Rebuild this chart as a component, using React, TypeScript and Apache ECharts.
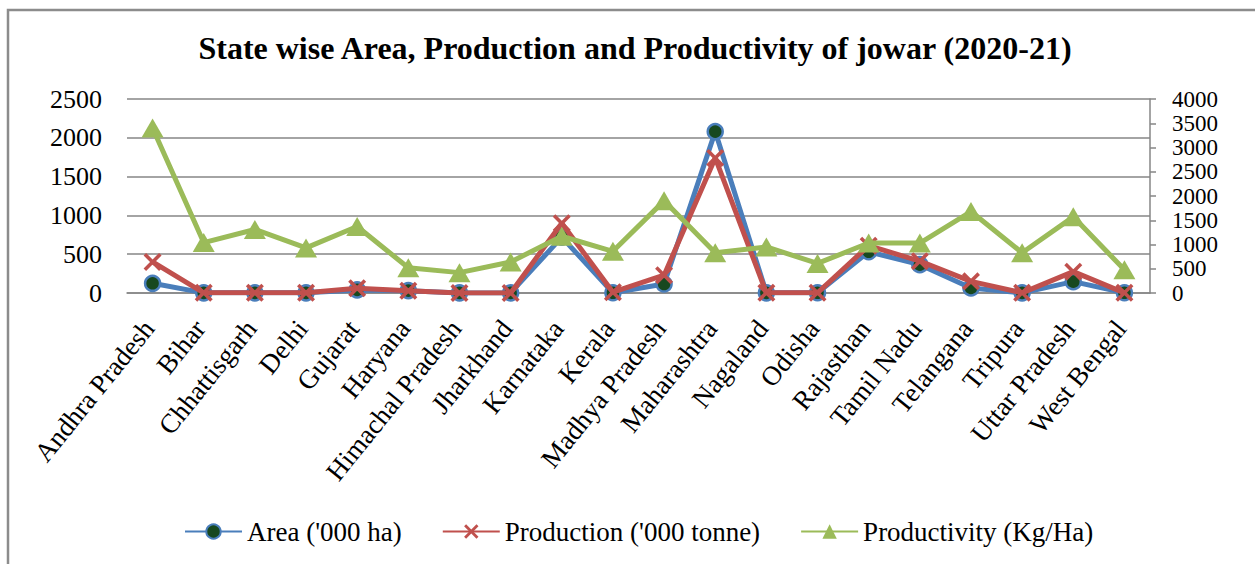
import React, { useEffect, useRef } from "react";
import * as echarts from "echarts";

const states = [
  "Andhra Pradesh", "Bihar", "Chhattisgarh", "Delhi", "Gujarat", "Haryana",
  "Himachal Pradesh", "Jharkhand", "Karnataka", "Kerala", "Madhya Pradesh",
  "Maharashtra", "Nagaland", "Odisha", "Rajasthan", "Tamil Nadu", "Telangana",
  "Tripura", "Uttar Pradesh", "West Bengal",
];
const area = [125, 2, 2, 2, 40, 30, 1, 1, 720, 3, 116, 2080, 2, 3, 532, 365, 65, 2, 146, 3];
const production = [400, 2, 2, 2, 62, 30, 1, 1, 900, 10, 230, 1740, 2, 2, 610, 410, 150, 2, 275, 2];
const productivity = [3400, 1040, 1310, 930, 1370, 520, 420, 640, 1170, 860, 1900, 830, 950, 610, 1030, 1030, 1680, 830, 1570, 480];

const leftTicks = { min: 0, max: 2500, interval: 500 };
const rightTicks = { min: 0, max: 4000, interval: 500 };

const FONT = "'Liberation Serif', 'Times New Roman', serif";
const BLUE = "#4a7ebb";
const RED = "#c0504d";
const GREEN = "#9bbb59";
const DARK = "#17481f";
const GRID = "#868686";

const X_PATH =
  "path://M0,1.4 L1.4,0 L5,3.6 L8.6,0 L10,1.4 L6.4,5 L10,8.6 L8.6,10 L5,6.4 L1.4,10 L0,8.6 L3.6,5 Z";

const plain = (v: number) => String(v);

export default function App() {
  const ref = useRef<HTMLDivElement>(null);
  useEffect(() => {
    if (!ref.current) return;
    const chart = echarts.init(ref.current, null, { renderer: "svg" });
    chart.setOption({
      animation: false,
      backgroundColor: "#ffffff",
      textStyle: { fontFamily: FONT },
      title: {
        text: "State wise Area, Production and Productivity of jowar (2020-21)",
        left: 630,
        textAlign: "center",
        top: 27,
        textStyle: { fontFamily: FONT, fontWeight: "bold", fontSize: 32, color: "#000" },
      },
      graphic: [
        {
          type: "rect",
          shape: { x: 8, y: 10, width: 1400, height: 700 },
          style: { fill: "none", stroke: "#8c8c8c", lineWidth: 2.5 },
          silent: true,
        },
      ],
      legend: {
        top: 513,
        left: 179,
        itemWidth: 57,
        itemHeight: 18,
        itemGap: 40,
        textStyle: { fontFamily: FONT, fontSize: 27, color: "#000" },
        data: ["Area ('000 ha)", "Production ('000 tonne)", "Productivity (Kg/Ha)"],
      },
      grid: { left: 127, right: 105, top: 99, bottom: 271, containLabel: false },
      xAxis: {
        type: "category",
        data: states,
        boundaryGap: true,
        axisLine: { show: true, lineStyle: { color: GRID, width: 1.5 } },
        axisTick: { show: false },
        axisLabel: {
          interval: 0,
          rotate: 51,
          margin: 26,
          padding: [0, 6, 0, 0],
          fontFamily: FONT,
          fontSize: 27,
          color: "#000",
        },
      },
      yAxis: [
        {
          type: "value",
          ...leftTicks,
          position: "left",
          axisLine: { show: false },
          axisTick: { show: false },
          splitLine: { show: true, lineStyle: { color: GRID, width: 1.5 } },
          axisLabel: { margin: 25, fontFamily: FONT, fontSize: 26, color: "#000", formatter: plain },
        },
        {
          type: "value",
          ...rightTicks,
          position: "right",
          axisLine: { show: true, lineStyle: { color: GRID, width: 1.5 } },
          axisTick: { show: true, length: 6, lineStyle: { color: GRID, width: 1.5 } },
          splitLine: { show: false },
          axisLabel: {
            margin: 22,
            fontFamily: FONT,
            fontSize: 23,
            color: "#000",
            formatter: plain,
            showMinLabel: true,
            showMaxLabel: true,
            hideOverlap: false,
          },
        },
      ],
      series: [
        {
          name: "Area ('000 ha)",
          type: "line",
          yAxisIndex: 0,
          data: area,
          symbol: "circle",
          symbolSize: 15,
          lineStyle: { color: BLUE, width: 5 },
          itemStyle: { color: DARK, borderColor: BLUE, borderWidth: 2.5 },
          z: 2,
        },
        {
          name: "Production ('000 tonne)",
          type: "line",
          yAxisIndex: 0,
          data: production,
          symbol: X_PATH,
          symbolSize: 18,
          lineStyle: { color: RED, width: 5 },
          itemStyle: { color: RED },
          z: 3,
        },
        {
          name: "Productivity (Kg/Ha)",
          type: "line",
          yAxisIndex: 1,
          data: productivity,
          symbol: "triangle",
          symbolSize: [22, 19],
          lineStyle: { color: GREEN, width: 5 },
          itemStyle: { color: GREEN },
          z: 4,
        },
      ],
    });
    return () => chart.dispose();
  }, []);
  return (
    <div
      ref={ref}
      style={{ position: "fixed", left: 0, top: 0, width: 1255, height: 564 }}
    />
  );
}
